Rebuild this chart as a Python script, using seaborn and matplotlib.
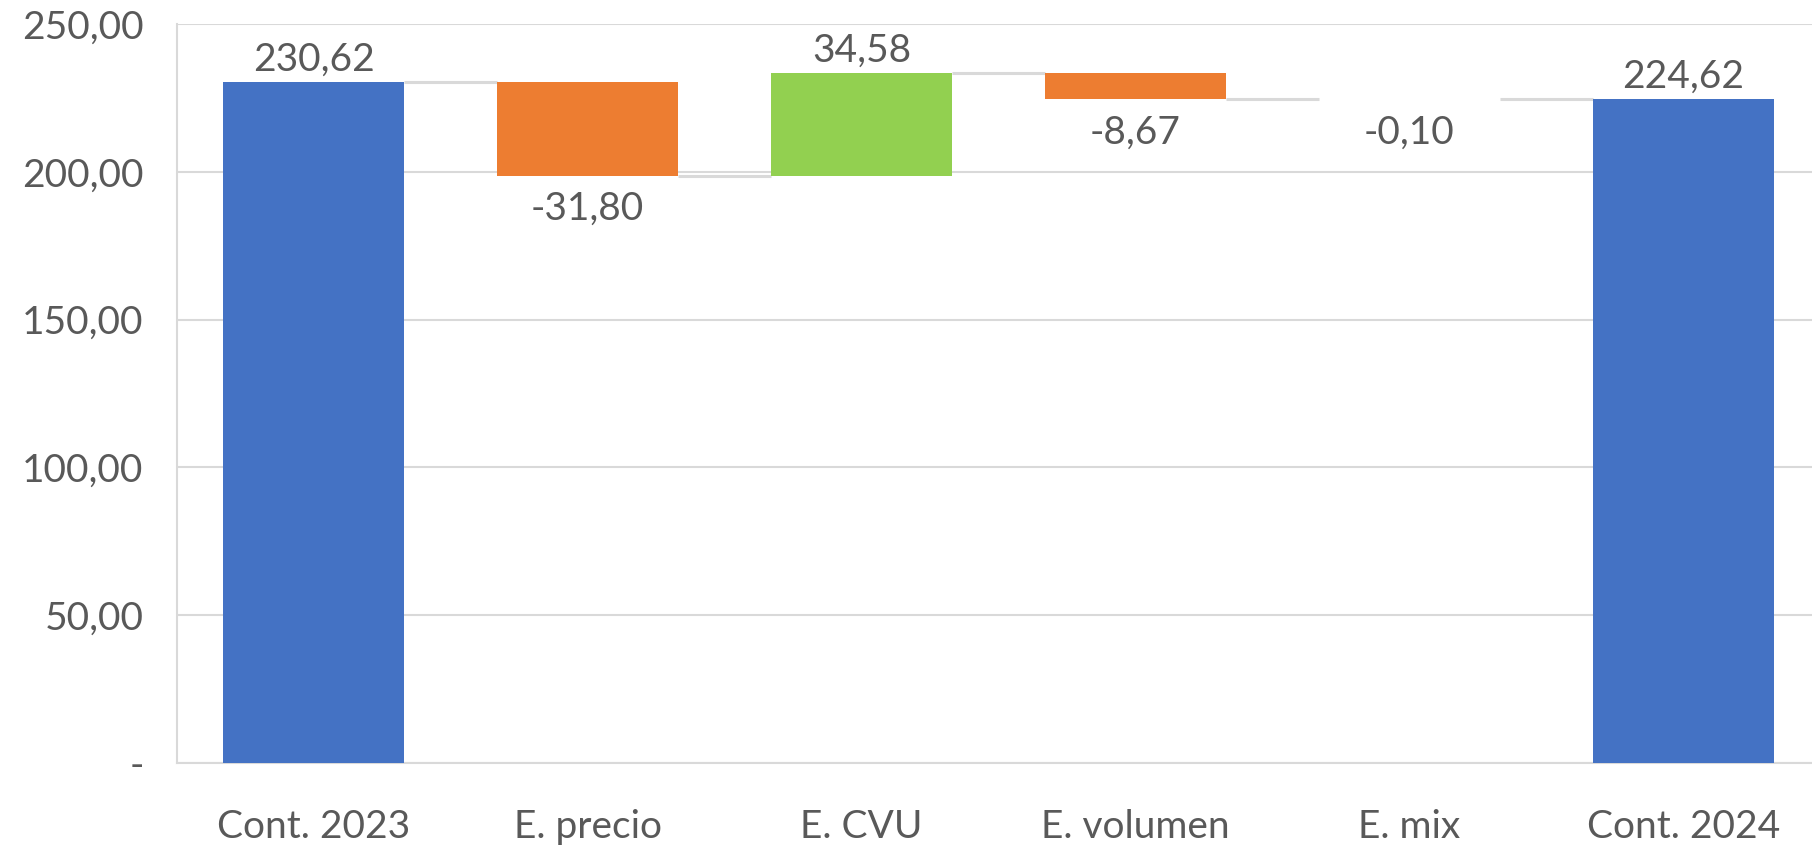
import matplotlib
matplotlib.use('Agg')
import matplotlib.pyplot as plt
import matplotlib.ticker as mticker
import numpy as np
import seaborn as sns

categories = ['Cont. 2023', 'E. precio', 'E. CVU', 'E. volumen', 'E. mix', 'Cont. 2024']
values = [230.62, -31.80, 34.58, -8.67, -0.10, 224.62]
is_total = [True, False, False, False, False, True]

BLUE = '#4472C4'
ORANGE = '#ED7D31'
GREEN = '#92D050'
GRID = '#D9D9D9'
TEXT = '#595959'


def fmt_es(v):
    s = f'{abs(v):,.2f}'.replace(',', 'X').replace('.', ',').replace('X', '.')
    return ('-' if v < 0 else '') + s


# running totals -> bar bottoms
bottoms = []
running = 0.0
for v, tot in zip(values, is_total):
    if tot:
        bottoms.append(0.0)
        running = v
    else:
        bottoms.append(running)
        running += v
levels = [b + v for b, v in zip(bottoms, values)]
colors = [BLUE if t else (GREEN if v > 0 else ORANGE) for v, t in zip(values, is_total)]

sns.set_style('white')
plt.rcParams['font.family'] = ['Lato', 'DejaVu Sans']
FS = 28

fig = plt.figure(figsize=(18.12, 8.49), dpi=100)
ax = fig.add_axes([0.0976, 0.1016, 0.907, 0.8697])

bar_w = 0.66
sns.barplot(x=categories, y=values, bottom=bottoms, width=bar_w, errorbar=None,
            order=categories, color=BLUE, saturation=1, ax=ax, zorder=3)
for patch, c in zip(ax.patches, colors):
    patch.set_facecolor(c)
    patch.set_edgecolor('none')

# connectors between bars
for i in range(len(categories) - 1):
    ax.hlines(levels[i], i + bar_w / 2, i + 1 - bar_w / 2, color=GRID, lw=2.2, zorder=2)

# data labels
for i, (v, t) in enumerate(zip(values, is_total)):
    if t or v > 0:
        ax.annotate(fmt_es(v), (i, levels[i]), xytext=(0, 3), textcoords='offset points',
                    ha='center', va='bottom', fontsize=FS, color=TEXT)
    else:
        ax.annotate(fmt_es(v), (i, bottoms[i] + v), xytext=(0, -11), textcoords='offset points',
                    ha='center', va='top', fontsize=FS, color=TEXT)

ax.set_ylim(0, 250)
ax.set_xlim(-0.5, len(categories) - 0.5)
ax.set_yticks(np.arange(0, 251, 50))
ax.yaxis.set_major_formatter(mticker.FuncFormatter(lambda v, p: '-' if v == 0 else fmt_es(v)))
ax.grid(axis='y', color=GRID, lw=1.5, zorder=0)
ax.set_axisbelow(True)
ax.tick_params(axis='y', length=0, pad=24, labelsize=FS, labelcolor=TEXT)
ax.tick_params(axis='x', length=0, pad=33, labelsize=FS, labelcolor=TEXT)
ax.set_xlabel('')
ax.set_ylabel('')
for side in ['top', 'right']:
    ax.spines[side].set_visible(False)
for side in ['left', 'bottom']:
    ax.spines[side].set_color(GRID)
    ax.spines[side].set_linewidth(1.5)

fig.savefig('out.png', dpi=100)
